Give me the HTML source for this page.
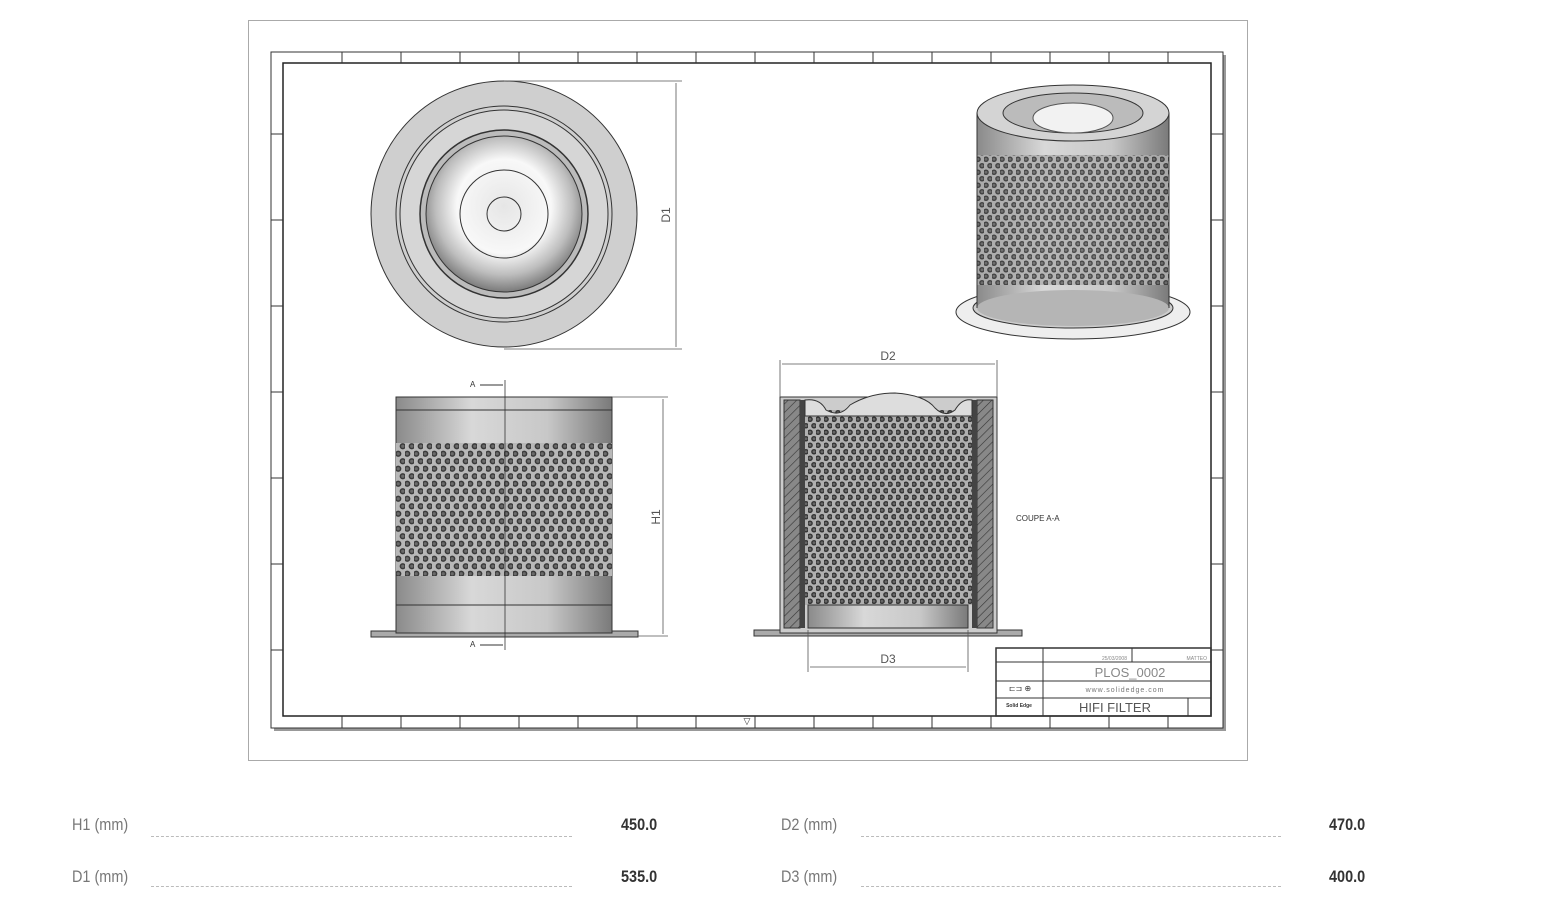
<!DOCTYPE html>
<html><head><meta charset="utf-8">
<style>
html,body{margin:0;padding:0;background:#fff;width:1560px;height:909px;overflow:hidden}
.lab{position:absolute;font-family:"Liberation Sans Narrow","Liberation Sans",sans-serif;font-size:17px;color:#777;transform:scaleX(0.85);transform-origin:left top}
.val{position:absolute;font-family:"Liberation Sans Narrow","Liberation Sans",sans-serif;font-size:17px;font-weight:bold;color:#333;transform:scaleX(0.85);transform-origin:left top}
.dot{position:absolute;border-top:1px dashed #bbb;height:0}
</style></head><body>
<svg width="1560" height="909" style="position:absolute;left:0;top:0" xmlns="http://www.w3.org/2000/svg" font-family="Liberation Sans, sans-serif">
<defs>
<pattern id="perf" width="9" height="15" patternUnits="userSpaceOnUse">
<rect width="9" height="15" fill="#b8b8b8"/>
<circle cx="2.25" cy="3.75" r="3.1" fill="#3a3a3a"/>
<circle cx="6.75" cy="11.25" r="3.1" fill="#3a3a3a"/>
<circle cx="2.25" cy="3.75" r="1.6" fill="#6a6a6a"/>
<circle cx="6.75" cy="11.25" r="1.6" fill="#6a6a6a"/>
</pattern>
<pattern id="perf2" width="8" height="13" patternUnits="userSpaceOnUse">
<rect width="8" height="13" fill="#b0b0b0"/>
<circle cx="2" cy="3.25" r="2.8" fill="#333"/>
<circle cx="6" cy="9.75" r="2.8" fill="#333"/>
<circle cx="2" cy="3.25" r="1.4" fill="#666"/>
<circle cx="6" cy="9.75" r="1.4" fill="#666"/>
</pattern>
<pattern id="hatch" width="6" height="6" patternUnits="userSpaceOnUse" patternTransform="rotate(45)">
<rect width="6" height="6" fill="#888"/><line x1="0" y1="0" x2="0" y2="6" stroke="#333" stroke-width="1.2"/>
</pattern>
<linearGradient id="cyl" x1="0" x2="1">
<stop offset="0" stop-color="#8a8a8a"/><stop offset="0.35" stop-color="#d8d8d8"/><stop offset="0.7" stop-color="#c8c8c8"/><stop offset="1" stop-color="#7a7a7a"/>
</linearGradient>
<radialGradient id="dome" cx="0.5" cy="0.45" r="0.55">
<stop offset="0" stop-color="#e6e6e6"/><stop offset="0.55" stop-color="#f8f8f8"/><stop offset="0.8" stop-color="#bdbdbd"/><stop offset="1" stop-color="#7a7a7a"/>
</radialGradient>
</defs>
<rect x="248.5" y="20.5" width="999" height="740" fill="#fff" stroke="#aaa"/>
<rect x="274" y="55" width="952" height="676" fill="#999"/>
<rect x="271" y="52" width="952" height="676" fill="#fff" stroke="#333" stroke-width="1"/>
<rect x="283" y="63" width="928" height="653" fill="#fff" stroke="#222" stroke-width="1.5"/>
<g stroke="#333" stroke-width="1">
<path d="M342 52v11M401 52v11M460 52v11M519 52v11M578 52v11M637 52v11M696 52v11M755 52v11M814 52v11M873 52v11M932 52v11M991 52v11M1050 52v11M1109 52v11M1168 52v11"/>
<path d="M342 716v12M401 716v12M460 716v12M519 716v12M578 716v12M637 716v12M696 716v12M755 716v12M814 716v12M873 716v12M932 716v12M991 716v12M1050 716v12M1109 716v12M1168 716v12"/>
<path d="M271 134h12M271 220h12M271 306h12M271 392h12M271 478h12M271 564h12M271 650h12"/>
<path d="M1211 134h12M1211 220h12M1211 306h12M1211 392h12M1211 478h12M1211 564h12M1211 650h12"/>
</g>
<circle cx="504" cy="214" r="133" fill="#cfcfcf" stroke="#333"/>
<circle cx="504" cy="214" r="108" fill="none" stroke="#333"/>
<circle cx="504" cy="214" r="104" fill="#d6d6d6" stroke="#333"/>
<circle cx="504" cy="214" r="84" fill="#bbb" stroke="#333" stroke-width="1.5"/>
<circle cx="504" cy="214" r="78" fill="url(#dome)" stroke="#333"/>
<circle cx="504" cy="214" r="44" fill="none" stroke="#333"/>
<circle cx="504" cy="214" r="17" fill="none" stroke="#333"/>
<g stroke="#555" stroke-width="0.8" fill="#555">
<line x1="504" y1="81" x2="682" y2="81"/><line x1="504" y1="349" x2="682" y2="349"/>
<line x1="676" y1="83" x2="676" y2="347"/>
</g>
<text x="670" y="215" font-size="12" fill="#555" transform="rotate(-90 670 215)" text-anchor="middle">D1</text>
<rect x="371" y="631" width="267" height="6" fill="#aaa" stroke="#333"/>
<rect x="396" y="397" width="216" height="236" fill="url(#cyl)" stroke="#333"/>
<line x1="396" y1="410" x2="612" y2="410" stroke="#333"/>
<line x1="396" y1="605" x2="612" y2="605" stroke="#333"/>
<rect x="396" y="443" width="216" height="133" fill="url(#perf)"/>
<line x1="505" y1="380" x2="505" y2="650" stroke="#333" stroke-width="0.8"/>
<text x="470" y="387" font-size="8" fill="#333">A</text><line x1="480" y1="385" x2="503" y2="385" stroke="#333"/>
<text x="470" y="647" font-size="8" fill="#333">A</text><line x1="480" y1="645" x2="503" y2="645" stroke="#333"/>
<g stroke="#555" stroke-width="0.8"><line x1="612" y1="397" x2="668" y2="397"/><line x1="638" y1="636" x2="668" y2="636"/><line x1="663" y1="399" x2="663" y2="634"/></g>
<text x="660" y="517" font-size="12" fill="#555" transform="rotate(-90 660 517)" text-anchor="middle">H1</text>
<rect x="754" y="630" width="268" height="6" fill="#aaa" stroke="#333"/>
<rect x="780" y="397" width="217" height="236" fill="#ccc" stroke="#333"/>
<rect x="784" y="400" width="16" height="228" fill="url(#hatch)" stroke="#333"/>
<rect x="977" y="400" width="16" height="228" fill="url(#hatch)" stroke="#333"/>
<rect x="800" y="400" width="5" height="228" fill="#444"/>
<rect x="972" y="400" width="5" height="228" fill="#444"/>
<rect x="805" y="410" width="167" height="195" fill="url(#perf2)"/>
<path d="M805 400 Q820 398 826 410 Q840 418 850 405 Q870 393 895 393 Q925 395 935 408 Q945 418 955 410 Q962 398 972 400 L972 416 L805 416Z" fill="#ddd" stroke="#333"/>
<rect x="808" y="605" width="160" height="23" fill="url(#cyl)" stroke="#333"/>
<g stroke="#555" stroke-width="0.8"><line x1="780" y1="360" x2="780" y2="397"/><line x1="997" y1="360" x2="997" y2="397"/><line x1="782" y1="364" x2="995" y2="364"/>
<line x1="808" y1="630" x2="808" y2="672"/><line x1="968" y1="630" x2="968" y2="672"/><line x1="810" y1="667" x2="966" y2="667"/></g>
<text x="888" y="360" font-size="12" fill="#555" text-anchor="middle">D2</text>
<text x="888" y="663" font-size="12" fill="#555" text-anchor="middle">D3</text>
<text x="1016" y="521" font-size="8" fill="#333">COUPE A-A</text>
<ellipse cx="1073" cy="312" rx="117" ry="27" fill="#eee" stroke="#333"/>
<ellipse cx="1073" cy="308" rx="100" ry="20" fill="#ccc" stroke="#333"/>
<rect x="977" y="113" width="192" height="195" fill="url(#cyl)"/>
<ellipse cx="1073" cy="308" rx="96" ry="18" fill="#b5b5b5"/>
<rect x="977" y="155" width="192" height="130" fill="url(#perf2)" opacity="0.85"/>
<line x1="977" y1="113" x2="977" y2="308" stroke="#333"/><line x1="1169" y1="113" x2="1169" y2="308" stroke="#333"/>
<ellipse cx="1073" cy="113" rx="96" ry="28" fill="#d4d4d4" stroke="#333"/>
<ellipse cx="1073" cy="113" rx="70" ry="20" fill="#bbb" stroke="#333"/>
<ellipse cx="1073" cy="118" rx="40" ry="15" fill="#f2f2f2" stroke="#555"/>
<g stroke="#333" fill="none">
<rect x="996" y="648" width="215" height="68" stroke-width="1.5"/>
<line x1="1043" y1="648" x2="1043" y2="716"/>
<line x1="996" y1="662" x2="1211" y2="662"/>
<line x1="996" y1="681" x2="1211" y2="681"/>
<line x1="996" y1="698" x2="1211" y2="698"/>
<line x1="1132" y1="648" x2="1132" y2="662"/>
<line x1="1188" y1="698" x2="1188" y2="716"/>
</g>
<text x="1127" y="660" font-size="5" fill="#888" text-anchor="end">25/03/2008</text>
<text x="1207" y="660" font-size="5" fill="#888" text-anchor="end">MATTEO</text>
<text x="1130" y="677" font-size="13" fill="#888" text-anchor="middle">PLOS_0002</text>
<text x="1125" y="692" font-size="7" fill="#777" text-anchor="middle" letter-spacing="1">www.solidedge.com</text>
<text x="1115" y="712" font-size="13" fill="#555" text-anchor="middle">HIFI FILTER</text>
<text x="1019" y="707" font-size="5" fill="#333" text-anchor="middle" font-weight="bold">Solid Edge</text>
<text x="1020" y="691" font-size="8" fill="#333" text-anchor="middle">⊏⊐ ⊕</text>
<text x="747" y="724" font-size="9" fill="#333" text-anchor="middle">▽</text>
</svg>
<div class="lab" style="left:72px;top:815px">H1 (mm)</div>
<div class="dot" style="left:151px;top:836px;width:421px"></div>
<div class="val" style="left:621px;top:815px">450.0</div>
<div class="lab" style="left:72px;top:867px">D1 (mm)</div>
<div class="dot" style="left:151px;top:886px;width:421px"></div>
<div class="val" style="left:621px;top:867px">535.0</div>
<div class="lab" style="left:781px;top:815px">D2 (mm)</div>
<div class="dot" style="left:861px;top:836px;width:420px"></div>
<div class="val" style="left:1329px;top:815px">470.0</div>
<div class="lab" style="left:781px;top:867px">D3 (mm)</div>
<div class="dot" style="left:861px;top:886px;width:420px"></div>
<div class="val" style="left:1329px;top:867px">400.0</div>
</body></html>
